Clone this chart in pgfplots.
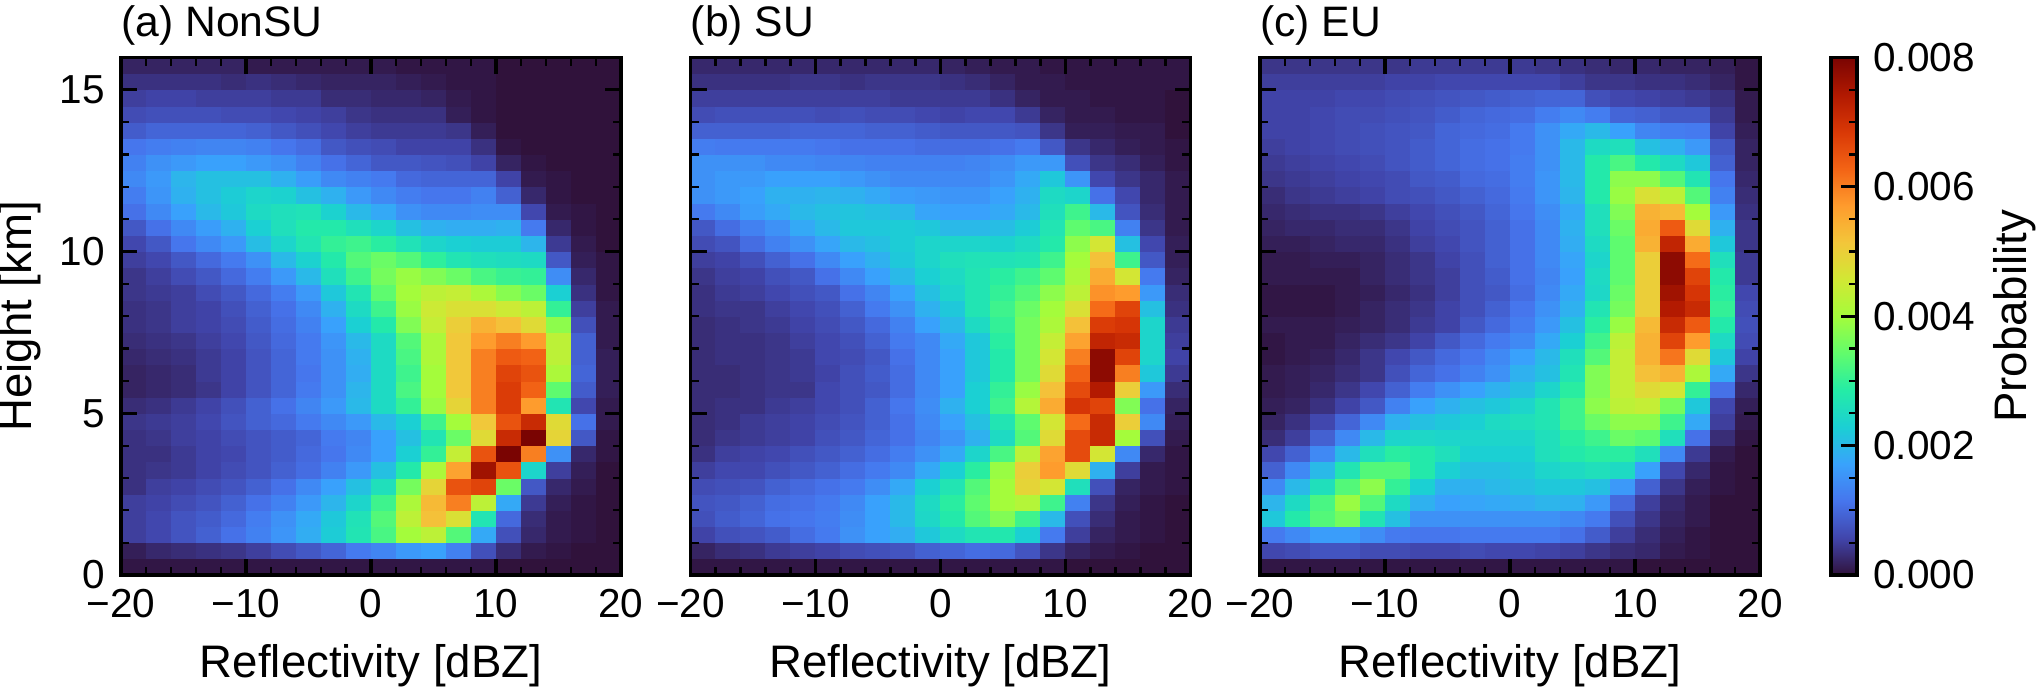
\documentclass[border=0pt]{standalone}
\usepackage{fontspec}
\setmainfont{Liberation Sans}
\usepackage{pgfplots}
\usepackage{pgfplotstable}
\pgfplotsset{compat=1.18}

% probability in units of 1e-4, bottom row first, 20 columns (2 dBZ) by 32 rows (0.5 km)
\pgfplotstableread[row sep=crcr,header=false]{
0.5\\0.5\\0.5\\0.5\\0.5\\0.5\\0.5\\0.5\\0.5\\0.5\\0.5\\0.5\\0.5\\0.5\\0.5\\0\\0\\0\\0\\0\\
1.5\\2.5\\3\\3.5\\4\\5\\6.5\\8\\9.5\\12\\13.5\\16\\17\\13\\7\\3\\1\\0.5\\0\\0\\
5\\6\\7.5\\9\\11\\13\\15.5\\18.5\\22.5\\27\\32\\40\\43\\33\\18\\7\\2.5\\1\\0.5\\0\\
5\\6\\7.5\\8.5\\10\\12.5\\15\\18\\22\\26.5\\33\\43\\52\\47\\27\\10\\3\\1\\0.5\\0\\
5\\5.5\\6.5\\7.5\\9\\11\\13\\16\\19.5\\24\\31\\41\\53\\60\\43\\18\\4.5\\1.5\\0.5\\0\\
3.5\\5\\5.5\\6.5\\7.5\\9\\11\\14\\17\\21\\26\\36\\49\\65\\67\\35\\8\\2.5\\1\\0\\
3.5\\4\\4.5\\5.5\\6.5\\7.5\\9\\10.5\\13\\16\\21\\28\\41\\56\\76\\65\\24\\5\\1.5\\0\\
3.5\\3.5\\4.5\\5.5\\6\\7.5\\8.5\\10\\11.5\\14\\17\\23\\30\\44\\65\\80\\60\\15\\2.5\\0.5\\
3.5\\4\\5\\5.5\\6.5\\7.5\\8.5\\9.5\\12\\13.5\\17\\21\\27\\35\\48\\71\\80\\49\\8\\0.5\\
4\\4.5\\5\\6\\7.5\\9\\10\\12\\14\\16\\20\\23\\31\\40\\51\\65\\71\\48\\11\\1\\
3\\3.5\\4.5\\5.5\\7\\9\\11\\13.5\\16\\20\\25\\30\\39\\49\\60\\68\\57\\27\\6\\1\\
2\\2.5\\3\\4\\5.5\\7.5\\9.5\\12\\15\\19.5\\25\\32\\40\\51\\60\\68\\63\\34\\8.5\\1.5\\
2\\2.5\\3\\4.5\\5.5\\7.5\\9.5\\11.5\\15\\18.5\\25\\31\\40\\51\\60\\67\\65\\41\\9.5\\1.5\\
2.5\\3\\3.5\\4.5\\5.5\\7.5\\9.5\\12\\15\\19\\25\\32\\41\\51\\60\\64\\63\\43\\9\\1.5\\
3\\3.5\\4\\5\\6\\8\\10\\12\\15.5\\20\\25\\33\\41\\51\\57\\60\\57\\43\\9\\1\\
3.5\\4\\5\\5.5\\6.5\\8.5\\10.5\\13\\17\\23\\28\\37\\44\\50\\54\\52\\48\\38\\7\\1\\
3.5\\4\\5\\5.5\\7\\9\\11\\14\\19\\25\\31\\39\\45\\47\\47\\45\\43\\30\\5\\1\\
4\\4.5\\5\\6.5\\8\\10\\12.5\\16\\22\\27\\34\\40\\43\\44\\41\\37.5\\35\\23\\3.5\\0.5\\
4\\5\\6.5\\8\\10\\12.5\\16\\20\\26\\31\\36\\39\\37\\35\\32\\30.5\\30\\14.5\\2.5\\0.5\\
5\\6\\8\\10\\12\\15\\20\\23.5\\28\\33\\35\\33\\29.5\\27\\26\\25.5\\25\\8\\1.5\\0.5\\
6\\8\\11.5\\14\\16\\20.5\\24\\27\\30\\31\\29\\26.5\\24\\23\\22.5\\22.5\\19.5\\4.5\\1\\0\\
8\\11\\14\\16.5\\19\\23\\26\\28\\28\\26\\24\\21\\19\\18.5\\18.5\\19\\12\\2.5\\0.5\\0\\
11\\14\\17\\20\\22\\25\\26\\26.5\\23.5\\20\\18\\15\\14\\14\\14.5\\14.5\\6\\1\\0.5\\0\\
12.5\\15.5\\19\\21\\22.5\\24\\23.5\\21\\19\\16\\14\\12.5\\11.5\\11.5\\13\\9\\2.5\\0.5\\0\\0\\
14\\16\\19.5\\21\\21\\21\\19\\16.5\\14\\13\\12\\10\\9.5\\9.5\\9.5\\5.5\\1\\0.5\\0\\0\\
13\\15\\16\\17\\17\\16\\15\\13\\11\\9.5\\8\\8\\7.5\\7\\5.5\\2\\0.5\\0\\0\\0\\
11.5\\12.5\\13\\13.5\\13.5\\13\\11.5\\10.5\\8\\7\\6.5\\5.5\\5.5\\5.5\\3.5\\0.5\\0\\0\\0\\0\\
8.5\\9.5\\9.5\\9.5\\9.5\\9\\8\\7\\6\\5\\4.5\\4.5\\4.5\\4\\1.5\\0\\0\\0\\0\\0\\
6.5\\7\\7\\7\\6.5\\6.5\\6\\5.5\\5\\4\\3.5\\3.5\\3.5\\1.5\\0.5\\0\\0\\0\\0\\0\\
5\\5.5\\5.5\\5\\5\\5\\4.5\\4.5\\3\\3\\2.5\\2.5\\2\\1\\0.5\\0\\0\\0\\0\\0\\
3.5\\3.5\\3.5\\3.5\\3\\3.5\\3\\2.5\\2\\2\\2\\1.5\\1\\0.5\\0.5\\0\\0\\0\\0\\0\\
2\\2\\2\\2\\2\\1\\1\\1\\1\\1\\1\\0.5\\0.5\\0.5\\0.5\\0\\0\\0\\0\\0\\
}\nonsu
\pgfplotstableread[row sep=crcr,header=false]{
0.5\\0.5\\0.5\\0.5\\0.5\\0.5\\0.5\\0.5\\0.5\\0.5\\0.5\\0.5\\0.5\\0.5\\0.5\\0\\0\\0\\0\\0\\
2\\3\\3.5\\4.5\\5\\5.5\\6.5\\7\\7.5\\9\\9.5\\10.5\\10\\7.5\\4\\2\\1\\0.5\\0\\0\\
5.5\\7\\7.5\\8.5\\10.5\\12\\15\\17\\18.5\\22\\25\\27\\27.5\\23\\12\\5\\2\\1\\0.5\\0\\
7\\8.5\\9.5\\11\\11.5\\12.5\\14.5\\17\\20\\24.5\\28\\33\\37\\31\\20\\7\\3\\1\\0.5\\0\\
7.5\\8\\9\\10.5\\11\\12\\14\\17\\20\\25\\29\\34\\40\\42\\31\\13\\4\\1.5\\0.5\\0\\
6.5\\7\\7.5\\9\\10\\11\\12\\14.5\\18\\23\\27\\33\\40\\49\\46\\26\\7\\2\\1\\0.5\\
5\\6\\6\\7\\8\\9\\10.5\\12\\14\\18\\23\\29\\39\\50\\57\\48\\19\\5\\1\\0.5\\
3.5\\5\\5.5\\6\\7\\8\\9\\10.5\\12.5\\15\\18\\24\\32\\43\\56\\66\\46\\14\\2.5\\0.5\\
3\\4\\4.5\\5\\5.5\\7\\8\\9.5\\11\\13.5\\15.5\\19\\25\\33\\48\\66\\71\\40\\7\\1\\
3\\3.5\\4.5\\5\\5.5\\6.5\\7.5\\9\\11\\14\\17\\21\\27\\34\\46\\62\\71\\50\\14\\1.5\\
3\\3.5\\3.5\\4.5\\5\\6\\7\\9\\11.5\\14.5\\19\\23\\31\\42\\55\\69\\67\\37\\11\\2\\
3\\3\\3.5\\4\\4\\6\\7\\8\\10.5\\14\\17\\23\\30\\39\\52\\66\\74\\50\\16\\3\\
3\\3\\3.5\\4\\4.5\\5.5\\7\\8.5\\10.5\\14\\17\\22\\28\\36\\48\\63\\78\\60\\22\\4.5\\
3\\3.5\\3.5\\4\\4.5\\6\\6.5\\8\\11\\14\\17\\22\\28\\36\\46\\60\\78\\67\\24\\5.5\\
3\\3.5\\3.5\\4\\5\\6\\7\\9\\12\\14\\18\\22\\29\\36\\44\\56\\72\\71\\24\\5\\
3\\3.5\\4\\4.5\\5.5\\6.5\\8\\10\\13\\17\\20\\25\\30\\36\\41\\52\\68\\69\\24\\4.5\\
3.5\\4\\4\\5\\6\\7\\9\\12\\15\\19\\22\\27\\31\\35\\40\\47\\62\\67\\21\\3.5\\
3.5\\4.5\\5\\6\\7\\8\\11\\13.5\\17\\21\\24\\27\\30\\33\\38\\43\\58\\57\\16\\3\\
4\\5\\5.5\\7\\8\\11\\14\\17\\20\\23\\25\\27\\29\\31\\34\\41\\55\\46\\12\\2\\
5\\5.5\\7\\9\\11\\14\\17\\19\\22\\24\\26\\26.5\\26.5\\27\\31\\40\\52\\31\\8\\1.5\\
6.5\\7.5\\10.5\\13\\15\\17.5\\20\\21\\22.5\\24\\24\\24\\23.5\\25\\28\\38\\46\\21\\6\\1.5\\
8\\10.5\\13\\15\\18\\20\\22\\22\\22.5\\22\\20\\20\\20.5\\22.5\\27\\34\\32\\13\\4\\1\\
12\\14\\16.5\\18\\20\\21\\21.5\\21\\20\\17.5\\17\\17\\18\\20\\26\\31\\20\\7.5\\3\\1\\
15\\16\\17\\19\\19\\19.5\\19\\18\\16.5\\16\\15.5\\15.5\\17\\19\\25\\24\\11\\6\\2.5\\1\\
15\\16\\16\\17\\17\\17\\16\\15\\14\\14\\14\\14\\15.5\\18\\22\\15.5\\6\\4\\2.5\\1\\
15\\15\\15\\14\\14\\13.5\\13.5\\13\\13\\13\\13\\13.5\\14.5\\16\\16\\7\\4\\3\\1.5\\0.5\\
12.5\\12\\12\\12\\12\\11.5\\11\\11\\11\\10.5\\10.5\\10.5\\11\\12\\8\\4\\2.5\\1.5\\1\\0.5\\
9\\9\\9\\9\\9.5\\9.5\\9.5\\9\\9\\8.5\\8\\8\\8\\7.5\\4\\1.5\\1.5\\1\\1\\0\\
6.5\\7\\7\\7\\7\\6.5\\7\\6.5\\6.5\\6\\5.5\\6\\6\\4.5\\2\\1\\1\\0.5\\0.5\\0\\
5\\5\\5\\5\\5\\5\\5\\5\\4.5\\4.5\\4.5\\4.5\\3.5\\2\\1\\1\\0.5\\0.5\\0.5\\0\\
3.5\\3.5\\3.5\\3.5\\4\\4\\3.5\\4\\4\\4\\3.5\\3\\2\\1\\1\\0.5\\0.5\\0.5\\0.5\\0.5\\
2.5\\2.5\\2.5\\2.5\\2.5\\2.5\\2.5\\2.5\\2.5\\2.5\\2\\1.5\\1\\1\\0.5\\0.5\\0.5\\0.5\\0.5\\0.5\\
}\su
\pgfplotstableread[row sep=crcr,header=false]{
0.5\\0.5\\0.5\\0.5\\0.5\\0.5\\0.5\\0.5\\0.5\\0.5\\0.5\\0.5\\0.5\\0.5\\0.5\\0\\0\\0\\0\\0\\
6\\6.5\\7.5\\7.5\\6.5\\6.5\\6\\6\\6.5\\6\\6\\5.5\\5\\4\\3\\2.5\\1\\0.5\\0\\0\\
12\\14\\16.5\\16.5\\14.5\\12\\11.5\\11.5\\12\\12\\12\\12\\11\\8.5\\5\\3\\1.5\\0.5\\0\\0\\
22\\28\\33\\36\\27\\21\\15\\15\\15\\15\\15\\15\\14\\12\\7\\4\\2\\1\\0\\0\\
19.5\\25\\32\\39\\33\\25\\19\\17\\17.5\\18\\18.5\\19.5\\19\\16\\10\\5\\2.5\\1\\0\\0\\
14\\20\\26\\33\\38\\30\\23\\19\\19\\20\\21\\22\\22\\21\\16\\9\\4\\1.5\\0.5\\0\\
9\\14\\20\\27\\33\\33\\28\\23\\21\\21\\22\\24\\25\\26\\25\\17\\6\\2.5\\0.5\\0\\
6\\9\\14\\20\\26\\29\\28\\26\\23\\23\\23\\26\\28\\29\\29\\26\\14\\4.5\\1\\0\\
3\\5\\9\\14\\20\\24\\24.5\\24\\24\\24\\24\\26\\29\\31\\35\\34\\26\\11\\3\\0.5\\
2\\3.5\\6\\9.5\\14\\19\\21\\22\\23\\25\\26\\27\\31\\35\\38\\38\\31\\18\\5\\1\\
1.5\\2\\3.5\\5.5\\8\\13\\17\\19\\21\\22\\24\\27\\31\\38\\43\\44\\36\\22\\6\\1.5\\
1\\1.5\\2.5\\4\\6\\9\\12.5\\15\\17\\19\\21\\24\\29\\37\\44\\48\\46\\30\\11\\2.5\\
1\\1.5\\2\\3\\4\\7\\9.5\\11\\13\\15\\19\\21\\27\\37\\44\\52\\54\\41\\18\\4\\
0.5\\1\\1.5\\2.5\\4\\6\\8\\10\\11.5\\14\\17\\20\\26\\33\\44\\54\\61\\48\\22\\5.5\\
0.5\\1\\1\\2\\3\\4\\5.5\\8\\10\\12\\14\\18\\23\\31\\43\\54\\67\\57\\25\\6.5\\
1\\1\\1\\1.5\\2\\3\\4.5\\5.5\\8\\10\\12.5\\16\\21\\29\\39\\53\\71\\64\\28\\7\\
0.5\\0.5\\0.5\\1\\2\\3\\4\\5.5\\7\\9\\11.5\\15\\19\\27\\36\\50\\74\\71\\30\\6.5\\
0.5\\0.5\\0.5\\1\\1.5\\2.5\\3.5\\5\\7\\8\\10.5\\14\\18\\24.5\\35\\50\\76\\69\\29\\6\\
1\\1\\1\\1\\2\\3\\4\\5\\7\\8.5\\11\\13.5\\17\\25\\34\\50\\78\\67\\28\\4.5\\
1\\1\\1.5\\1.5\\2\\3\\4\\5.5\\7\\9\\11\\14\\17.5\\24\\34\\50\\78\\62\\26\\4.5\\
1.5\\1.5\\2\\2.5\\2.5\\3.5\\5\\6\\7.5\\9\\11\\14\\18.5\\25\\34\\54\\72\\55\\22\\4\\
2\\2.5\\2.5\\3\\3\\4\\5.5\\6.5\\7.5\\9\\11\\14\\19\\26\\35\\55\\64\\48\\19\\4\\
2.5\\3\\3.5\\3.5\\4\\5\\6\\7\\8\\9.5\\11.5\\14.5\\18\\26\\37\\54\\53\\40\\16\\3.5\\
3\\4\\4.5\\5\\5.5\\6.5\\7\\8\\9\\10\\12\\15.5\\19.5\\28\\39\\47\\43\\33\\13\\3\\
4\\4.5\\5\\5.5\\6\\6.5\\8\\8.5\\10\\10.5\\12.5\\15.5\\20\\28\\38\\38\\33\\27\\11.5\\2.5\\
4.5\\5\\5.5\\6\\6.5\\7.5\\8.5\\9.5\\10.5\\11\\12.5\\15\\20\\28\\32\\28\\25\\22\\9\\2\\
5\\5.5\\6\\6.5\\7\\7.5\\8.5\\9.5\\10.5\\11\\12\\15\\20\\25\\26\\21\\19\\16\\8\\2\\
5.5\\5.5\\6\\6.5\\7\\7.5\\8\\9.5\\10\\10.5\\12\\15\\18\\20\\17\\13.5\\12.5\\12\\5.5\\1.5\\
5.5\\5.5\\6\\6.5\\6.5\\7\\7.5\\8.5\\9.5\\10\\10.5\\12.5\\14\\12.5\\9.5\\9\\8\\8\\4.5\\1\\
5.5\\5.5\\5.5\\6\\6\\6.5\\7\\7.5\\8\\8.5\\9\\9.5\\9.5\\7\\6\\5.5\\5\\4.5\\3.5\\1\\
5\\5\\5\\5\\5\\5.5\\5.5\\6\\6\\6\\6\\6\\5\\4\\4\\3.5\\3.5\\3\\2\\0.5\\
4\\4\\4\\4\\4\\4\\4.5\\4.5\\4.5\\4.5\\4.5\\4\\3.5\\3\\2.5\\2.5\\2\\2\\1.5\\0.5\\
}\eu

\newcommand\tickfont{\fontsize{20.25}{24}\selectfont}
\newcommand\labelfont{\fontsize{22.8}{26}\selectfont}
\newcommand\titlefont{\fontsize{21.3}{26}\selectfont}

\pgfplotsset{
  colormap={turbo}{rgb255=(48,18,59) rgb255=(65,69,171) rgb255=(70,117,237)
    rgb255=(57,162,252) rgb255=(27,207,212) rgb255=(36,236,166) rgb255=(97,252,108)
    rgb255=(164,252,59) rgb255=(209,232,52) rgb255=(243,198,58) rgb255=(254,155,45)
    rgb255=(243,99,21) rgb255=(217,56,6) rgb255=(177,25,1) rgb255=(122,4,2)},
  panel/.style={
    scale only axis, width=250pt, height=258.75pt,
    xmin=-20, xmax=20, ymin=0, ymax=16,
    xtick={-20,-10,0,10,20}, xticklabels={−20,−10,0,10,20},
    ytick={0,5,10,15}, minor x tick num=4, minor y tick num=4,
    tick pos=both, tick align=inside, axis on top,
    major tick length=8pt, minor tick length=4.2pt,
    major tick style={black,line width=1.6pt},
    minor tick style={black,line width=1.1pt},
    axis line style={black,line width=1.7pt},
    /pgf/number format/assume math mode=true,
    tick label style={font=\tickfont},
    xticklabel style={inner sep=0pt,yshift=-7pt},
    yticklabel style={inner sep=0pt,xshift=-8pt},
    xlabel={Reflectivity [dBZ]},
    xlabel style={font=\labelfont,at={(0.5,0)},anchor=base,yshift=-51pt},
    title style={font=\titlefont,at={(0,1)},anchor=base west,inner sep=0pt,yshift=4.5pt},
    point meta min=0, point meta max=80, colormap name=turbo,
  },
  cells/.style={matrix plot*, mesh/cols=20, point meta=explicit},
  /pgfplots/table/grid table/.style={
    x index=0, y index=0,
    x expr={-19+2*mod(\coordindex,20)},
    y expr={0.25+0.5*floor((\coordindex+0.5)/20)},
    meta index=0},
}

\begin{document}
\begin{tikzpicture}
\path[use as bounding box] (0,0) rectangle (1018pt,343.5pt);
\begin{axis}[panel, at={(60.5pt,56pt)}, anchor=south west, title={(a) NonSU},
  ylabel={Height [km]},
  ylabel style={font=\labelfont,at={(0,0.5)},anchor=base,inner sep=0pt,yshift=44.5pt}]
\addplot[cells] table[grid table] {\nonsu};
\end{axis}
\begin{axis}[panel, at={(345.25pt,56pt)}, anchor=south west, title={(b) SU},
  yticklabels={}]
\addplot[cells] table[grid table] {\su};
\end{axis}
\begin{axis}[panel, at={(630pt,56pt)}, anchor=south west, title={(c) EU},
  yticklabels={},
  colorbar,
  colorbar style={
    at={(1.142,1)}, anchor=north west, scale only axis, width=13pt, height=258.75pt,
    ytick={0,20,40,60,80}, yticklabels={0.000,0.002,0.004,0.006,0.008},
    minor ytick={5,10,15,25,30,35,45,50,55,65,70,75},
    xtick=\empty, tick align=inside, ytick pos=right, yticklabel pos=right,
    major tick length=8pt, minor tick length=4.2pt,
    major tick style={black,line width=1.6pt},
    minor tick style={black,line width=1.1pt},
    axis line style={black,line width=1.7pt},
    tick label style={font=\tickfont},
    yticklabel style={inner sep=0pt,xshift=8pt},
    ylabel={Probability},
    every axis y label/.style={font=\labelfont,at={(1,0.5)},rotate=90,anchor=base,inner sep=0pt,yshift=-84.5pt},
  }]
\addplot[cells] table[grid table] {\eu};
\end{axis}
\end{tikzpicture}
\end{document}
